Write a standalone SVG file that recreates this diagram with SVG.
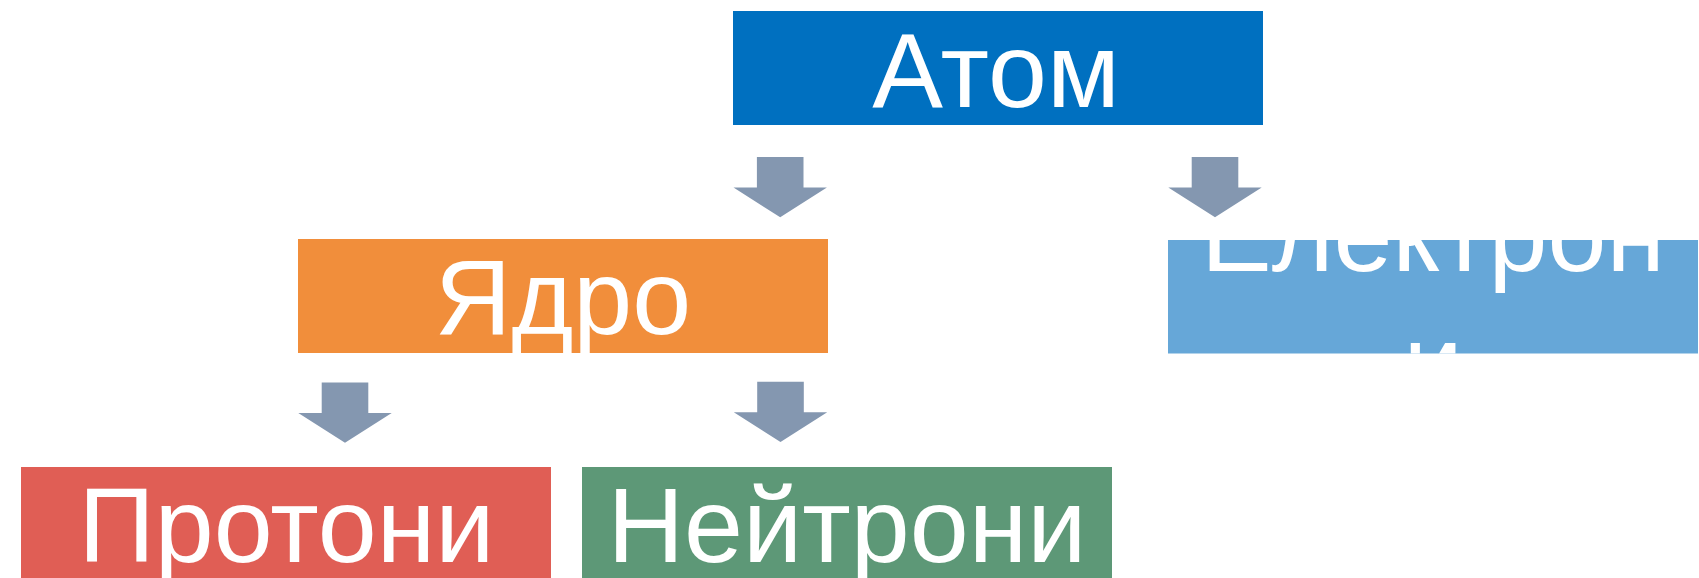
<svg xmlns="http://www.w3.org/2000/svg" width="1699" height="578" viewBox="0 0 1699 578">
<style>
.lbl{font-family:"Liberation Sans",Arial,sans-serif;font-size:106px;fill:#FFFFFF;text-anchor:middle}
.arr{fill:#8497B0}
</style>
<defs>
<path id="arrow" d="M23.4,0 H70 V30.6 H93.4 L46.7,60.3 L0,30.6 H23.4 Z"/>
<clipPath id="clipE"><rect x="1168" y="240" width="530" height="113.5"/></clipPath>
</defs>
<rect width="1699" height="578" fill="#FFFFFF"/>
<g id="connectors">
<use href="#arrow" class="arr" x="733.5" y="157"/>
<use href="#arrow" class="arr" x="1168.3" y="157"/>
<use href="#arrow" class="arr" x="298.3" y="382.5"/>
<use href="#arrow" class="arr" x="733.8" y="381.7"/>
</g>
<g id="atom">
<rect x="733" y="11" width="530" height="114" fill="#0070C0"/>
<text class="lbl" x="996" y="106.5">Атом</text>
</g>
<g id="yadro">
<rect x="298" y="239" width="530" height="114" fill="#F18E3B"/>
<text class="lbl" x="563" y="334.3">Ядро</text>
</g>
<g id="elektroni">
<rect x="1168" y="240" width="530" height="113.5" fill="#66A7D8"/>
<g clip-path="url(#clipE)">
<text class="lbl" x="1433" y="271">Електрон</text>
<text class="lbl" x="1433" y="398.5">и</text>
</g>
</g>
<g id="protoni">
<rect x="21" y="467" width="530" height="114" fill="#E05E55"/>
<text class="lbl" x="286.5" y="562.3">Протони</text>
</g>
<g id="neitroni">
<rect x="582" y="467" width="530" height="114" fill="#5D9877"/>
<text class="lbl" x="847" y="562.3">Нейтрони</text>
</g>
</svg>
